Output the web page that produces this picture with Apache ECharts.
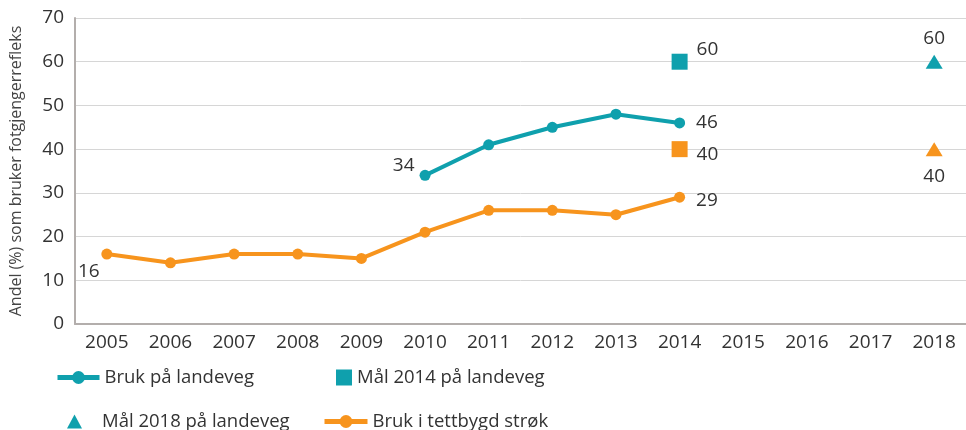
<!DOCTYPE html>
<html><head><meta charset="utf-8">
<script src="https://cdn.jsdelivr.net/npm/echarts@6/dist/echarts.min.js"></script>
<style>html,body{margin:0;padding:0;background:#fff}#c{width:966px;height:430px}</style>
</head><body><div id="c"></div>
<script>
const years = ['2005','2006','2007','2008','2009','2010','2011','2012','2013','2014','2015','2016','2017','2018'];
const landeveg = [null,null,null,null,null,34,41,45,48,46,null,null,null,null];
const tettbygd = [16,14,16,16,15,21,26,26,25,29,null,null,null,null];
const maal2014Landeveg = [null,null,null,null,null,null,null,null,null,60,null,null,null,null];
const maal2014Tettbygd = [null,null,null,null,null,null,null,null,null,40,null,null,null,null];
const maal2018Landeveg = [null,null,null,null,null,null,null,null,null,null,null,null,null,60];
const maal2018Tettbygd = [null,null,null,null,null,null,null,null,null,null,null,null,null,40];
const yTicks = {min:0, max:70, interval:10};

const TEAL = '#0fa0ad', ORANGE = '#f7941d';
const FONT = 'Open Sans';
const lbl = {fontFamily: FONT, fontSize: 19, color: '#333'};

function withLabels(arr, map){
  return arr.map((v,i)=> (v!=null && map[i]) ? {value:v, label:{show:true, ...lbl, ...map[i]}} : v);
}
const legText = {fontFamily:FONT,fontSize:18.5,color:'#333'};

const chart = echarts.init(document.getElementById('c'));
chart.setOption({
  animation:false,
  grid:{left:72, right:-3, top:18, bottom:106},
  legend:[
    {left:55, top:368, padding:0, itemWidth:42, itemHeight:16, data:['Bruk på landeveg'], textStyle:legText, lineStyle:{width:5}},
    {left:336, top:368, padding:0, itemWidth:16, itemHeight:16, data:['Mål 2014 på landeveg'], textStyle:legText},
    {left:67, top:412, padding:0, itemWidth:15, itemHeight:14, data:['Mål 2018 på landeveg'], textStyle:{...legText, padding:[0,0,0,15]}},
    {left:322, top:412, padding:0, itemWidth:43, itemHeight:16, data:['Bruk i tettbygd strøk'], textStyle:legText, lineStyle:{width:5}}
  ],
  xAxis:{type:'category', data:years, boundaryGap:true,
    axisLine:{lineStyle:{color:'#b3aeac', width:2}}, axisTick:{show:false},
    axisLabel:{fontFamily:FONT, fontSize:19, color:'#333', margin:9, interval:0}},
  yAxis:{type:'value', ...yTicks,
    name:'Andel (%) som bruker fotgjengerrefleks', nameLocation:'middle', nameGap:51,
    nameTextStyle:{fontFamily:FONT, fontSize:16, color:'#444'},
    axisLine:{show:true, lineStyle:{color:'#b3aeac', width:2}}, axisTick:{show:false},
    splitLine:{lineStyle:{color:'#d6d6d6', width:1}},
    axisLabel:{fontFamily:FONT, fontSize:19, color:'#333', margin:11}},
  series:[
    {name:'Bruk på landeveg', type:'line', data:withLabels(landeveg,{5:{position:'left', offset:[0,-10]}, 9:{position:'right', offset:[6,0]}}),
      color:TEAL, lineStyle:{width:4}, symbol:'circle', symbolSize:11, showSymbol:true},
    {name:'Mål 2014 på landeveg', type:'scatter', data:withLabels(maal2014Landeveg,{9:{position:'right', offset:[4,-12]}}),
      color:TEAL, itemStyle:{opacity:1}, symbol:'rect', symbolSize:16},
    {name:'Mål 2014 tettbygd', type:'scatter', data:withLabels(maal2014Tettbygd,{9:{position:'right', offset:[4,5]}}),
      color:ORANGE, itemStyle:{opacity:1}, symbol:'rect', symbolSize:16},
    {name:'Mål 2018 på landeveg', type:'scatter', data:withLabels(maal2018Landeveg,{13:{position:'top', offset:[0,-2]}}),
      color:TEAL, itemStyle:{opacity:1}, symbol:'triangle', symbolSize:[17,14]},
    {name:'Mål 2018 tettbygd', type:'scatter', data:withLabels(maal2018Tettbygd,{13:{position:'bottom', offset:[0,6]}}),
      color:ORANGE, itemStyle:{opacity:1}, symbol:'triangle', symbolSize:[17,14]},
    {name:'Bruk i tettbygd strøk', type:'line', data:withLabels(tettbygd,{0:{position:'bottom', offset:[-18,-2]}, 9:{position:'right', offset:[6,3]}}),
      color:ORANGE, lineStyle:{width:4}, symbol:'circle', symbolSize:11, showSymbol:true}
  ]
});
</script></body></html>
